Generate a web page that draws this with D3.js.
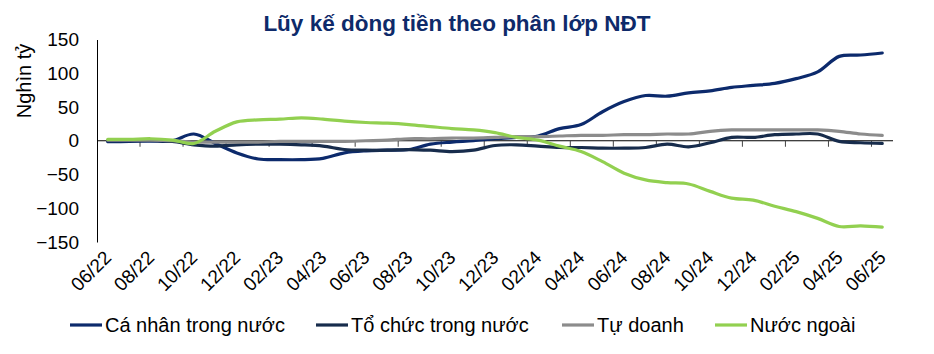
<!DOCTYPE html>
<html>
<head>
<meta charset="utf-8">
<script src="https://cdn.jsdelivr.net/npm/d3@7"></script>
<style>
  body { margin: 0; background: #fff; }
  svg { font-family: "Liberation Sans", Arial, sans-serif; }
</style>
</head>
<body>
<svg id="chart" width="934" height="354"></svg>
<script>
// monthly categories, 06/22 .. 06/25
const months = [
  "06/22", "07/22", "08/22", "09/22", "10/22", "11/22", "12/22",
  "01/23", "02/23", "03/23", "04/23", "05/23", "06/23", "07/23", "08/23", "09/23", "10/23", "11/23", "12/23",
  "01/24", "02/24", "03/24", "04/24", "05/24", "06/24", "07/24", "08/24", "09/24", "10/24", "11/24", "12/24",
  "01/25", "02/25", "03/25", "04/25", "05/25", "06/25"
];

// cumulative flows, thousand billion VND
const caNhan = [
  -1.5, -1, -0.5, 0, 10, -4, -18, -27, -28, -28, -26, -18, -15, -14, -13, -5, -2, 0, 3,
  5, 7, 18, 24, 43, 58, 67, 66, 71, 74, 79, 82, 85, 92, 102, 125, 127, 130
];
const toChuc = [
  0, 0, 0.5, -1, -6, -8, -6, -5, -5, -6, -8, -13, -14, -14, -13, -14, -16, -14, -7,
  -6, -8, -10, -10, -11, -11, -10, -5, -9, -3, 5, 5, 9, 10, 10, -1, -3, -4
];
const tuDoanh = [
  1, 1, 1, 0, -2, -2, -2, -2, -1, -1, -1, -1, 0, 1, 3, 3, 4, 4, 5,
  6, 6, 7, 8, 8, 9, 9, 10, 10, 14, 16, 16, 16, 16, 16, 14, 10, 8
];
const nuocNgoai = [
  2, 2, 3, 1, -4, 14, 28, 31, 32, 34, 32, 29, 27, 26, 24, 21, 18, 16, 12,
  5, 1, -8, -16, -31, -48, -58, -62, -64, -75, -85, -88, -97, -105, -115, -127, -126, -128
];

const yTicks = [150, 100, 50, 0, -50, -100, -150];

const series = [
  { name: "Cá nhân trong nước", values: caNhan, color: "#0c2a6c" },
  { name: "Tổ chức trong nước", values: toChuc, color: "#172c4c" },
  { name: "Tự doanh", values: tuDoanh, color: "#8c8c8c" },
  { name: "Nước ngoài", values: nuocNgoai, color: "#92d050" }
];

const svg = d3.select("#chart");
const plot = { left: 97, right: 893, top: 39.5, bottom: 242 };

const x = d3.scaleBand().domain(months).range([plot.left, plot.right]).paddingInner(0).paddingOuter(0);
const y = d3.scaleLinear().domain([-150, 150]).range([plot.bottom, plot.top]);
const cx = (m) => x(m) + x.bandwidth() / 2;

// title
svg.append("text")
  .attr("x", 457)
  .attr("y", 31)
  .attr("text-anchor", "middle")
  .attr("font-size", 22.5)
  .attr("font-weight", "bold")
  .attr("fill", "#0e2a6a")
  .text("Lũy kế dòng tiền theo phân lớp NĐT");

// y axis title
svg.append("text")
  .attr("transform", "translate(31,81) rotate(-90)")
  .attr("text-anchor", "middle")
  .attr("font-size", 20)
  .attr("fill", "#000")
  .text("Nghìn tỷ");

// y axis (line only, no ticks)
const yAxis = svg.append("g")
  .attr("transform", `translate(${plot.left},0)`)
  .call(d3.axisLeft(y).tickValues(yTicks).tickSize(0).tickPadding(18));
yAxis.select(".domain").attr("stroke", "#000").attr("stroke-width", 1);
yAxis.selectAll("text").attr("font-size", 19).attr("fill", "#000").attr("font-family", null);

// zero line with tick marks every two months
const y0 = y(0);
svg.append("line")
  .attr("x1", plot.left).attr("x2", plot.right)
  .attr("y1", y0).attr("y2", y0)
  .attr("stroke", "#000").attr("stroke-width", 1);

const tickMonths = months.filter((d, i) => i % 2 === 0);
svg.append("g")
  .selectAll("line")
  .data(tickMonths.slice(1))
  .join("line")
  .attr("x1", (d) => x(d)).attr("x2", (d) => x(d))
  .attr("y1", y0).attr("y2", y0 + 6)
  .attr("stroke", "#444").attr("stroke-width", 1);

// category labels, rotated, at the bottom
svg.append("g")
  .selectAll("text")
  .data(tickMonths)
  .join("text")
  .attr("transform", (d) => `translate(${cx(d)},${plot.bottom + 12}) rotate(-45)`)
  .attr("text-anchor", "end")
  .attr("dy", "0.35em")
  .attr("font-size", 19)
  .attr("fill", "#000")
  .text((d) => d);

// lines
const line = d3.line()
  .x((d, i) => cx(months[i]))
  .y((d) => y(d))
  .curve(d3.curveCatmullRom.alpha(0.5));

svg.append("g")
  .selectAll("path")
  .data(series)
  .join("path")
  .attr("d", (s) => line(s.values))
  .attr("fill", "none")
  .attr("stroke", (s) => s.color)
  .attr("stroke-width", 3.2)
  .attr("stroke-linejoin", "round")
  .attr("stroke-linecap", "round");

// legend
const legendX = [70, 316, 562, 715];
const legend = svg.append("g");
series.forEach((s, i) => {
  const g = legend.append("g").attr("transform", `translate(${legendX[i]},325)`);
  g.append("line").attr("x1", 0).attr("x2", 32).attr("y1", 0).attr("y2", 0)
    .attr("stroke", s.color).attr("stroke-width", 3.2);
  g.append("text").attr("x", 35).attr("dy", "0.35em")
    .attr("font-size", 20).attr("fill", "#000").text(s.name);
});
</script>
</body>
</html>
